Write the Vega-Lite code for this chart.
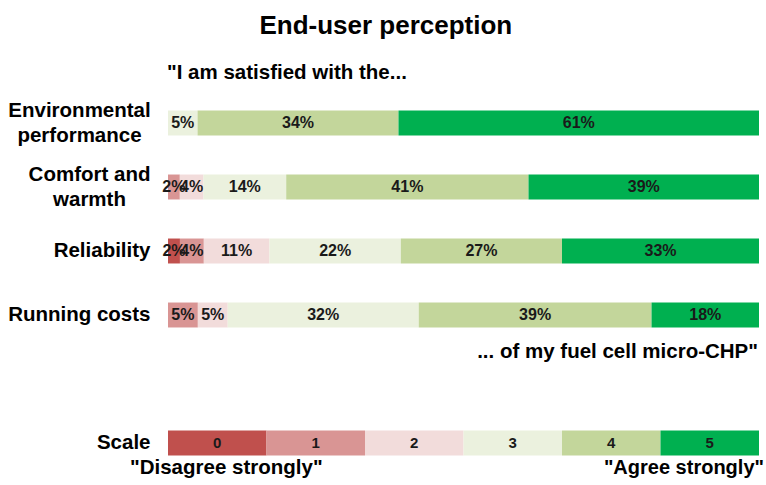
{
  "$schema": "https://vega.github.io/schema/vega-lite/v6.json",
  "width": 591,
  "height": 384,
  "autosize": "none",
  "padding": {"left": 168, "top": 91, "right": 7, "bottom": 10},
  "background": "white",
  "config": {"view": {"stroke": null}, "font": "Liberation Sans"},
  "title": {
    "text": "End-user perception",
    "font": "Liberation Sans",
    "fontSize": 26,
    "fontWeight": "bold",
    "color": "#000000",
    "anchor": "middle",
    "frame": "bounds",
    "offset": 24
  },
  "datasets": {
    "ratings": [
      {"item": "Environmental performance", "level": 3, "value": 5},
      {"item": "Environmental performance", "level": 4, "value": 34},
      {"item": "Environmental performance", "level": 5, "value": 61},
      {"item": "Comfort and warmth", "level": 1, "value": 2},
      {"item": "Comfort and warmth", "level": 2, "value": 4},
      {"item": "Comfort and warmth", "level": 3, "value": 14},
      {"item": "Comfort and warmth", "level": 4, "value": 41},
      {"item": "Comfort and warmth", "level": 5, "value": 39},
      {"item": "Reliability", "level": 0, "value": 2},
      {"item": "Reliability", "level": 1, "value": 4},
      {"item": "Reliability", "level": 2, "value": 11},
      {"item": "Reliability", "level": 3, "value": 22},
      {"item": "Reliability", "level": 4, "value": 27},
      {"item": "Reliability", "level": 5, "value": 33},
      {"item": "Running costs", "level": 1, "value": 5},
      {"item": "Running costs", "level": 2, "value": 5},
      {"item": "Running costs", "level": 3, "value": 32},
      {"item": "Running costs", "level": 4, "value": 39},
      {"item": "Running costs", "level": 5, "value": 18},
      {"item": "Scale", "level": 0, "value": 1},
      {"item": "Scale", "level": 1, "value": 1},
      {"item": "Scale", "level": 2, "value": 1},
      {"item": "Scale", "level": 3, "value": 1},
      {"item": "Scale", "level": 4, "value": 1},
      {"item": "Scale", "level": 5, "value": 1}
    ]
  },
  "encoding": {
    "y": {
      "field": "item",
      "type": "nominal",
      "scale": {
        "domain": ["Environmental performance", "Comfort and warmth", "Reliability", "Running costs", " ", "Scale"],
        "paddingInner": 0.61,
        "paddingOuter": 0.305
      },
      "axis": {
        "title": null,
        "domain": false,
        "ticks": false,
        "tickSize": 0,
        "grid": false,
        "labelFont": "Liberation Sans",
        "labelFontSize": 20.5,
        "labelFontWeight": "bold",
        "labelColor": "#000000",
        "labelLimit": 400,
        "labelLineHeight": 25,
        "labelExpr": "datum.value == 'Environmental performance' ? ['Environmental', 'performance'] : datum.value == 'Comfort and warmth' ? ['Comfort and', 'warmth'] : datum.value",
        "labelAlign": {
          "condition": {"test": "datum.value == 'Environmental performance' || datum.value == 'Comfort and warmth'", "value": "center"},
          "value": "right"
        },
        "labelOffset": {
          "condition": {"test": "datum.value == 'Environmental performance' || datum.value == 'Comfort and warmth'", "value": -12},
          "value": 0
        },
        "labelPadding": {
          "condition": [
            {"test": "datum.value == 'Environmental performance'", "value": 89},
            {"test": "datum.value == 'Comfort and warmth'", "value": 79}
          ],
          "value": 18
        }
      }
    }
  },
  "layer": [
    {
      "data": {"name": "ratings"},
      "transform": [
        {"stack": "value", "groupby": ["item"], "sort": [{"field": "level", "order": "ascending"}], "offset": "normalize", "as": ["x0", "x1"]}
      ],
      "mark": {"type": "bar"},
      "encoding": {
        "x": {"field": "x0", "type": "quantitative", "scale": {"domain": [0, 1], "nice": false, "zero": false}, "axis": null},
        "x2": {"field": "x1"},
        "color": {
          "field": "level",
          "type": "ordinal",
          "scale": {"domain": [0, 1, 2, 3, 4, 5], "range": ["#C0504D", "#D99594", "#F2DCDB", "#EBF1DE", "#C3D69B", "#00B050"]},
          "legend": null
        }
      }
    },
    {
      "data": {"name": "ratings"},
      "transform": [
        {"stack": "value", "groupby": ["item"], "sort": [{"field": "level", "order": "ascending"}], "offset": "normalize", "as": ["x0", "x1"]},
        {"calculate": "(datum.x0 + datum.x1) / 2", "as": "xm"},
        {"calculate": "datum.item == 'Scale' ? '' + datum.level : datum.value + '%'", "as": "label"}
      ],
      "mark": {"type": "text", "font": "Liberation Sans", "fontWeight": "bold", "color": "#1a1a1a", "baseline": "middle", "align": "center"},
      "encoding": {
        "x": {"field": "xm", "type": "quantitative"},
        "text": {"field": "label"},
        "size": {"condition": {"test": "datum.item == 'Scale'", "value": 15}, "value": 16}
      }
    },
    {
      "data": {"values": [{"item": "Environmental performance", "pos": 0, "note": "\"I am satisfied with the..."}]},
      "mark": {"type": "text", "font": "Liberation Sans", "fontWeight": "bold", "fontSize": 20.5, "color": "#000000", "align": "left", "baseline": "middle", "dy": -50, "dx": -1},
      "encoding": {"x": {"field": "pos", "type": "quantitative"}, "text": {"field": "note"}}
    },
    {
      "data": {"values": [{"item": " ", "pos": 1, "note": "... of my fuel cell micro-CHP\""}]},
      "mark": {"type": "text", "font": "Liberation Sans", "fontWeight": "bold", "fontSize": 20.5, "color": "#000000", "align": "right", "baseline": "middle", "dy": -27, "dx": -1},
      "encoding": {"x": {"field": "pos", "type": "quantitative"}, "text": {"field": "note"}}
    },
    {
      "data": {"values": [{"item": "Scale", "pos": 0, "note": "\"Disagree strongly\""}]},
      "mark": {"type": "text", "font": "Liberation Sans", "fontWeight": "bold", "fontSize": 20.5, "color": "#000000", "align": "left", "baseline": "middle", "dy": 25, "dx": -38},
      "encoding": {"x": {"field": "pos", "type": "quantitative"}, "text": {"field": "note"}}
    },
    {
      "data": {"values": [{"item": "Scale", "pos": 1, "note": "\"Agree strongly\""}]},
      "mark": {"type": "text", "font": "Liberation Sans", "fontWeight": "bold", "fontSize": 20, "color": "#000000", "align": "right", "baseline": "middle", "dy": 25, "dx": 5},
      "encoding": {"x": {"field": "pos", "type": "quantitative"}, "text": {"field": "note"}}
    }
  ]
}
